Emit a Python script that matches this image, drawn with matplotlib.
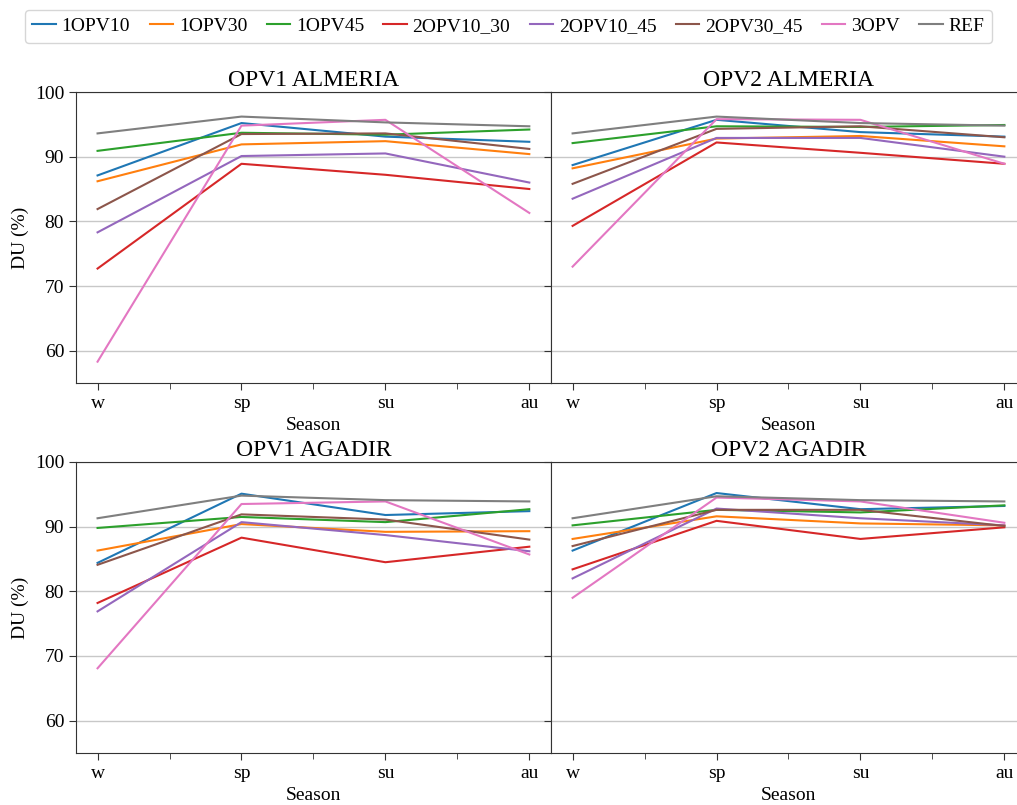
import numpy as np
import matplotlib
matplotlib.use("Agg")
import matplotlib.pyplot as plt

plt.rcParams['font.family'] = ['Liberation Serif', 'DejaVu Serif']

seasons = ["w", "sp", "su", "au"]
series = ["1OPV10", "1OPV30", "1OPV45", "2OPV10_30", "2OPV10_45", "2OPV30_45", "3OPV", "REF"]
titles = ["OPV1 ALMERIA", "OPV2 ALMERIA", "OPV1 AGADIR", "OPV2 AGADIR"]

# DU (%) per season, one list per series
opv1_almeria = [
    [87.1, 95.2, 93.1, 92.3],
    [86.2, 91.9, 92.4, 90.4],
    [90.9, 93.7, 93.4, 94.2],
    [72.7, 88.9, 87.2, 85.0],
    [78.3, 90.1, 90.5, 86.0],
    [81.9, 93.5, 93.6, 91.2],
    [58.3, 94.8, 95.7, 81.3],
    [93.6, 96.2, 95.3, 94.7],
]

opv2_almeria = [
    [88.7, 95.7, 93.8, 93.1],
    [88.2, 92.8, 93.2, 91.6],
    [92.1, 94.7, 94.6, 94.9],
    [79.3, 92.2, 90.6, 88.9],
    [83.5, 92.9, 92.9, 90.0],
    [85.8, 94.3, 94.7, 93.0],
    [73.0, 95.8, 95.7, 88.9],
    [93.6, 96.2, 95.2, 94.8],
]

opv1_agadir = [
    [84.4, 95.1, 91.8, 92.4],
    [86.3, 90.4, 89.2, 89.3],
    [89.8, 91.5, 90.7, 92.7],
    [78.2, 88.3, 84.5, 86.9],
    [76.9, 90.7, 88.7, 86.2],
    [84.1, 91.9, 91.1, 88.0],
    [68.1, 93.5, 93.9, 85.7],
    [91.3, 94.8, 94.1, 93.9],
]

opv2_agadir = [
    [86.3, 95.2, 92.7, 93.2],
    [88.1, 91.6, 90.5, 90.2],
    [90.2, 92.6, 92.2, 93.3],
    [83.4, 90.9, 88.1, 89.9],
    [82.0, 92.8, 91.3, 90.2],
    [87.0, 92.6, 92.6, 90.1],
    [79.0, 94.5, 93.9, 90.6],
    [91.3, 94.7, 94.1, 93.9],
]

colors = ["#1f77b4", "#ff7f0e", "#2ca02c", "#d62728", "#9467bd", "#8c564b", "#e377c2", "#7f7f7f"]


def DrawPanel(ax, data, title, left_labels):
    x = np.arange(len(seasons))
    for i in range(len(series)):
        ax.plot(x, data[i], color=colors[i], lw=1.5, label=series[i])
    ax.set_ylim(55, 100)
    ax.set_xlim(-0.15, 3.15)
    ax.set_yticks([60, 70, 80, 90, 100])
    ax.set_xticks(x)
    ax.set_xticklabels(seasons)
    ax.set_xticks([0.5, 1.5, 2.5], minor=True)
    ax.grid(axis='y', color='#c8c8c8', lw=1)
    ax.set_axisbelow(True)
    ax.tick_params(labelsize=14, length=5, color='#333333')
    ax.tick_params(which='minor', length=4, color='#333333')
    if not left_labels:
        ax.tick_params(labelleft=False)
    else:
        ax.set_ylabel("DU (%)", fontsize=14)
    ax.set_xlabel("Season", fontsize=14, labelpad=4)
    ax.set_title(title, fontsize=17, pad=4)
    for s in ax.spines.values():
        s.set_color('#333333')


fig = plt.figure(figsize=(10.17, 8.05), dpi=100)

ax1 = fig.add_axes([0.0747, 0.5242, 0.467, 0.3615])
ax2 = fig.add_axes([0.5418, 0.5242, 0.467, 0.3615])
ax3 = fig.add_axes([0.0747, 0.0646, 0.467, 0.3615])
ax4 = fig.add_axes([0.5418, 0.0646, 0.467, 0.3615])

DrawPanel(ax1, opv1_almeria, titles[0], True)
DrawPanel(ax2, opv2_almeria, titles[1], False)
DrawPanel(ax3, opv1_agadir, titles[2], True)
DrawPanel(ax4, opv2_agadir, titles[3], False)

handles, labels = ax1.get_legend_handles_labels()
fig.legend(handles, labels, loc='upper center', bbox_to_anchor=(0.5, 1.0), ncol=8,
           fontsize=14, handlelength=1.2, handletextpad=0.3, columnspacing=1.0,
           frameon=True, fancybox=True, edgecolor='#cccccc')

fig.savefig("out.png", dpi=100)
